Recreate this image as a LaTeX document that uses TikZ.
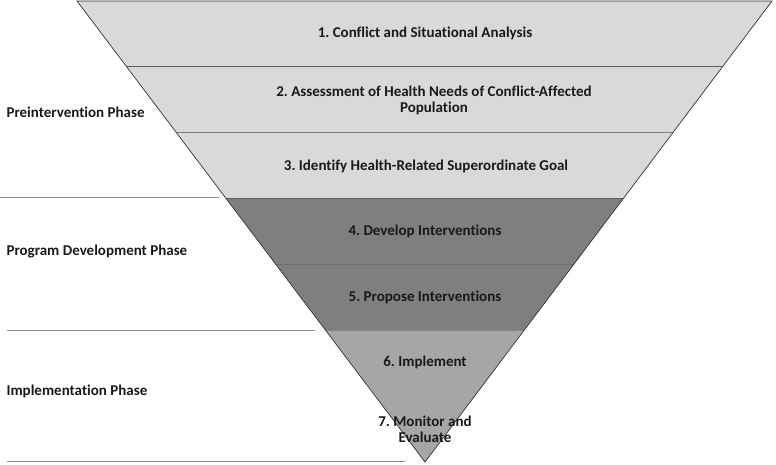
\documentclass[tikz,border=0pt]{standalone}
\usepackage{fontspec}
\setmainfont{Carlito}[Ligatures=NoCommon]
\usetikzlibrary{calc}

\definecolor{lightband}{HTML}{D9D9D9}
\definecolor{darkband}{HTML}{7F7F7F}
\definecolor{midband}{HTML}{A6A6A6}
\definecolor{sepgray}{HTML}{8C8C8C}

\begin{document}
\frenchspacing
\begin{tikzpicture}[x=1pt,y=-1pt,
    steptext/.style={font=\bfseries\fontsize{15}{16}\selectfont,align=center,text=black!90},
    phasetext/.style={font=\bfseries\fontsize{15}{16}\selectfont,anchor=west,text=black!90},
    phaseline/.style={sepgray,line width=1pt}]
    \useasboundingbox (0,0) rectangle (776,464);

    \coordinate (tl) at (77,1);
    \coordinate (tr) at (772,1);
    \coordinate (ap) at (425,462);

    % bands of the funnel
    \foreach \i/\col in {0/lightband,1/lightband,2/lightband,3/darkband,4/darkband,5/midband,6/midband} {
        \pgfmathsetmacro{\ka}{\i/7}
        \pgfmathsetmacro{\kb}{(\i+1)/7}
        \fill[\col] ($(tl)!\ka!(ap)$) -- ($(tr)!\ka!(ap)$) -- ($(tr)!\kb!(ap)$) -- ($(tl)!\kb!(ap)$) -- cycle;
        \draw[black!70,line width=1pt] ($(tl)!\kb!(ap)$) -- ($(tr)!\kb!(ap)$);
    }
    \draw[black!80,line width=.7pt] (tl)--(tr)--(ap)--cycle;

    \node[steptext] (s1) at (425,33) {1. Conflict and Situational Analysis};
    \node[steptext] (s2) at (434,100) {2. Assessment of Health Needs of Conflict-Affected\\Population};
    \node[steptext] (s3) at (426,166) {3. Identify Health-Related Superordinate Goal};
    \node[steptext] (s4) at (425,231) {4. Develop Interventions};
    \node[steptext] (s5) at (425,297) {5. Propose Interventions};
    \node[steptext] (s6) at (425,362) {6. Implement};
    \node[steptext] (s7) at (425,429) {7. Monitor and\\Evaluate};

    % phases on the left
    \node[phasetext] (pre) at (3,112) {Preintervention Phase};
    \node[phasetext] (dev) at (3,252) {Program Development Phase};
    \node[phasetext] (imp) at (3,391) {Implementation Phase};

    \draw[phaseline] (0,197)--(219,197);
    \draw[phaseline] (7,330)--(315,330);
    \draw[phaseline] (7,461)--(405,461);
\end{tikzpicture}
\end{document}
